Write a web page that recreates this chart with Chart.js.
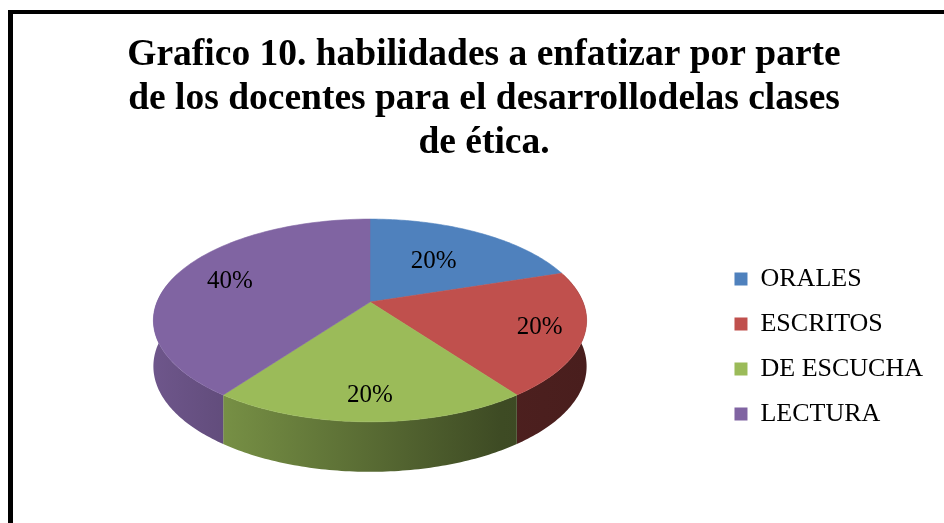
<!DOCTYPE html>
<html>
<head>
<meta charset="utf-8">
<script src="https://cdn.jsdelivr.net/npm/chart.js@4.4.0/dist/chart.umd.min.js"></script>
<style>
  body { margin: 0; background: #fff; }
  #wrap { position: relative; width: 944px; height: 523px; overflow: hidden; }
  #frame { position: absolute; left: 8px; top: 10px; right: -10px; bottom: -10px;
           border-left: 5px solid #000; border-top: 4px solid #000; pointer-events: none; }
</style>
</head>
<body>
<div id="wrap">
  <canvas id="pieChart" width="944" height="523"></canvas>
  <div id="frame"></div>
</div>
<script>
// data
const categories = ['ORALES', 'ESCRITOS', 'DE ESCUCHA', 'LECTURA'];
const percentages = [20, 20, 20, 40];
const sliceColors = ['#4F81BD', '#C0504D', '#9BBB59', '#8064A2'];
const titleLines = [
  'Grafico 10. habilidades a enfatizar por parte',
  'de los docentes para el desarrollodelas clases',
  'de ética.'
];

const serif = '"Liberation Serif", "Times New Roman", serif';

// fake 3d: tilted disc seen in perspective, plus a side wall
const pie = { cx: 370, cy: 302, rx: 213, ry: 98, persp: 0.182, depth: 45 };
const labelRadius = [0.55, 0.8, 0.81, 0.72];

function project(r, a) {
  const u = r * Math.cos(a), v = r * Math.sin(a);
  const w = 1 - pie.persp * v;
  return [pie.cx + pie.rx * u / w, pie.cy + pie.ry * v / w];
}

function shade(hex, f) {
  const n = parseInt(hex.slice(1), 16);
  const r = Math.round(((n >> 16) & 255) * f);
  const g = Math.round(((n >> 8) & 255) * f);
  const b = Math.round((n & 255) * f);
  return `rgb(${r},${g},${b})`;
}

const pie3d = {
  id: 'pie3d',
  beforeDatasetsDraw(chart) {
    const ctx = chart.ctx;
    const arcs = chart.getDatasetMeta(0).data;
    const total = percentages.reduce((s, v) => s + v, 0);
    const steps = 80;
    ctx.save();

    // side walls (front half only)
    arcs.forEach((arc, i) => {
      const a1 = Math.max(arc.startAngle, -0.3);
      const a2 = Math.min(arc.endAngle, Math.PI + 0.3);
      if (a2 <= a1) return;
      const grad = ctx.createLinearGradient(pie.cx - pie.rx - 4, 0, pie.cx + pie.rx + 4, 0);
      grad.addColorStop(0, shade(sliceColors[i], 0.86));
      grad.addColorStop(0.8, shade(sliceColors[i], 0.4));
      grad.addColorStop(1, shade(sliceColors[i], 0.38));
      ctx.beginPath();
      for (let s = 0; s <= steps; s++) {
        const p = project(1, a1 + (a2 - a1) * s / steps);
        if (s === 0) ctx.moveTo(p[0], p[1]); else ctx.lineTo(p[0], p[1]);
      }
      for (let s = steps; s >= 0; s--) {
        const a = a1 + (a2 - a1) * s / steps;
        const p = project(1, a);
        ctx.lineTo(p[0], p[1] + pie.depth + 5 * Math.max(0, Math.sin(a)));
      }
      ctx.closePath();
      ctx.fillStyle = grad;
      ctx.fill();
    });

    // top faces
    arcs.forEach((arc, i) => {
      ctx.beginPath();
      const c = project(0, 0);
      ctx.moveTo(c[0], c[1]);
      for (let s = 0; s <= steps; s++) {
        const p = project(1, arc.startAngle + (arc.endAngle - arc.startAngle) * s / steps);
        ctx.lineTo(p[0], p[1]);
      }
      ctx.closePath();
      ctx.fillStyle = sliceColors[i];
      ctx.strokeStyle = sliceColors[i];
      ctx.lineWidth = 0.6;
      ctx.fill();
      ctx.stroke();
    });

    // percentage labels
    ctx.fillStyle = '#000';
    ctx.font = '25px ' + serif;
    ctx.textAlign = 'center';
    ctx.textBaseline = 'middle';
    arcs.forEach((arc, i) => {
      const mid = (arc.startAngle + arc.endAngle) / 2;
      const p = project(labelRadius[i], mid);
      ctx.fillText(Math.round(percentages[i] / total * 100) + '%', p[0], p[1]);
    });

    ctx.restore();
    return false;
  }
};

new Chart(document.getElementById('pieChart'), {
  type: 'pie',
  data: {
    labels: categories,
    datasets: [{
      data: percentages,
      backgroundColor: sliceColors,
      borderWidth: 0,
    }],
  },
  options: {
    responsive: false,
    animation: false,
    layout: { padding: { left: 35, right: 11, top: 0, bottom: 0 } },
    plugins: {
      title: {
        display: true,
        text: titleLines,
        color: '#000',
        font: { family: serif, size: 37.5, weight: 'bold', lineHeight: 1.173 },
        padding: { top: 33, bottom: 5 },
      },
      legend: {
        position: 'right',
        fullSize: false,
        labels: {
          color: '#000',
          font: { family: serif, size: 26 },
          boxWidth: 13,
          boxHeight: 13,
          padding: 19,
        },
      },
      tooltip: { enabled: false },
    },
  },
  plugins: [pie3d],
});
</script>
</body>
</html>
